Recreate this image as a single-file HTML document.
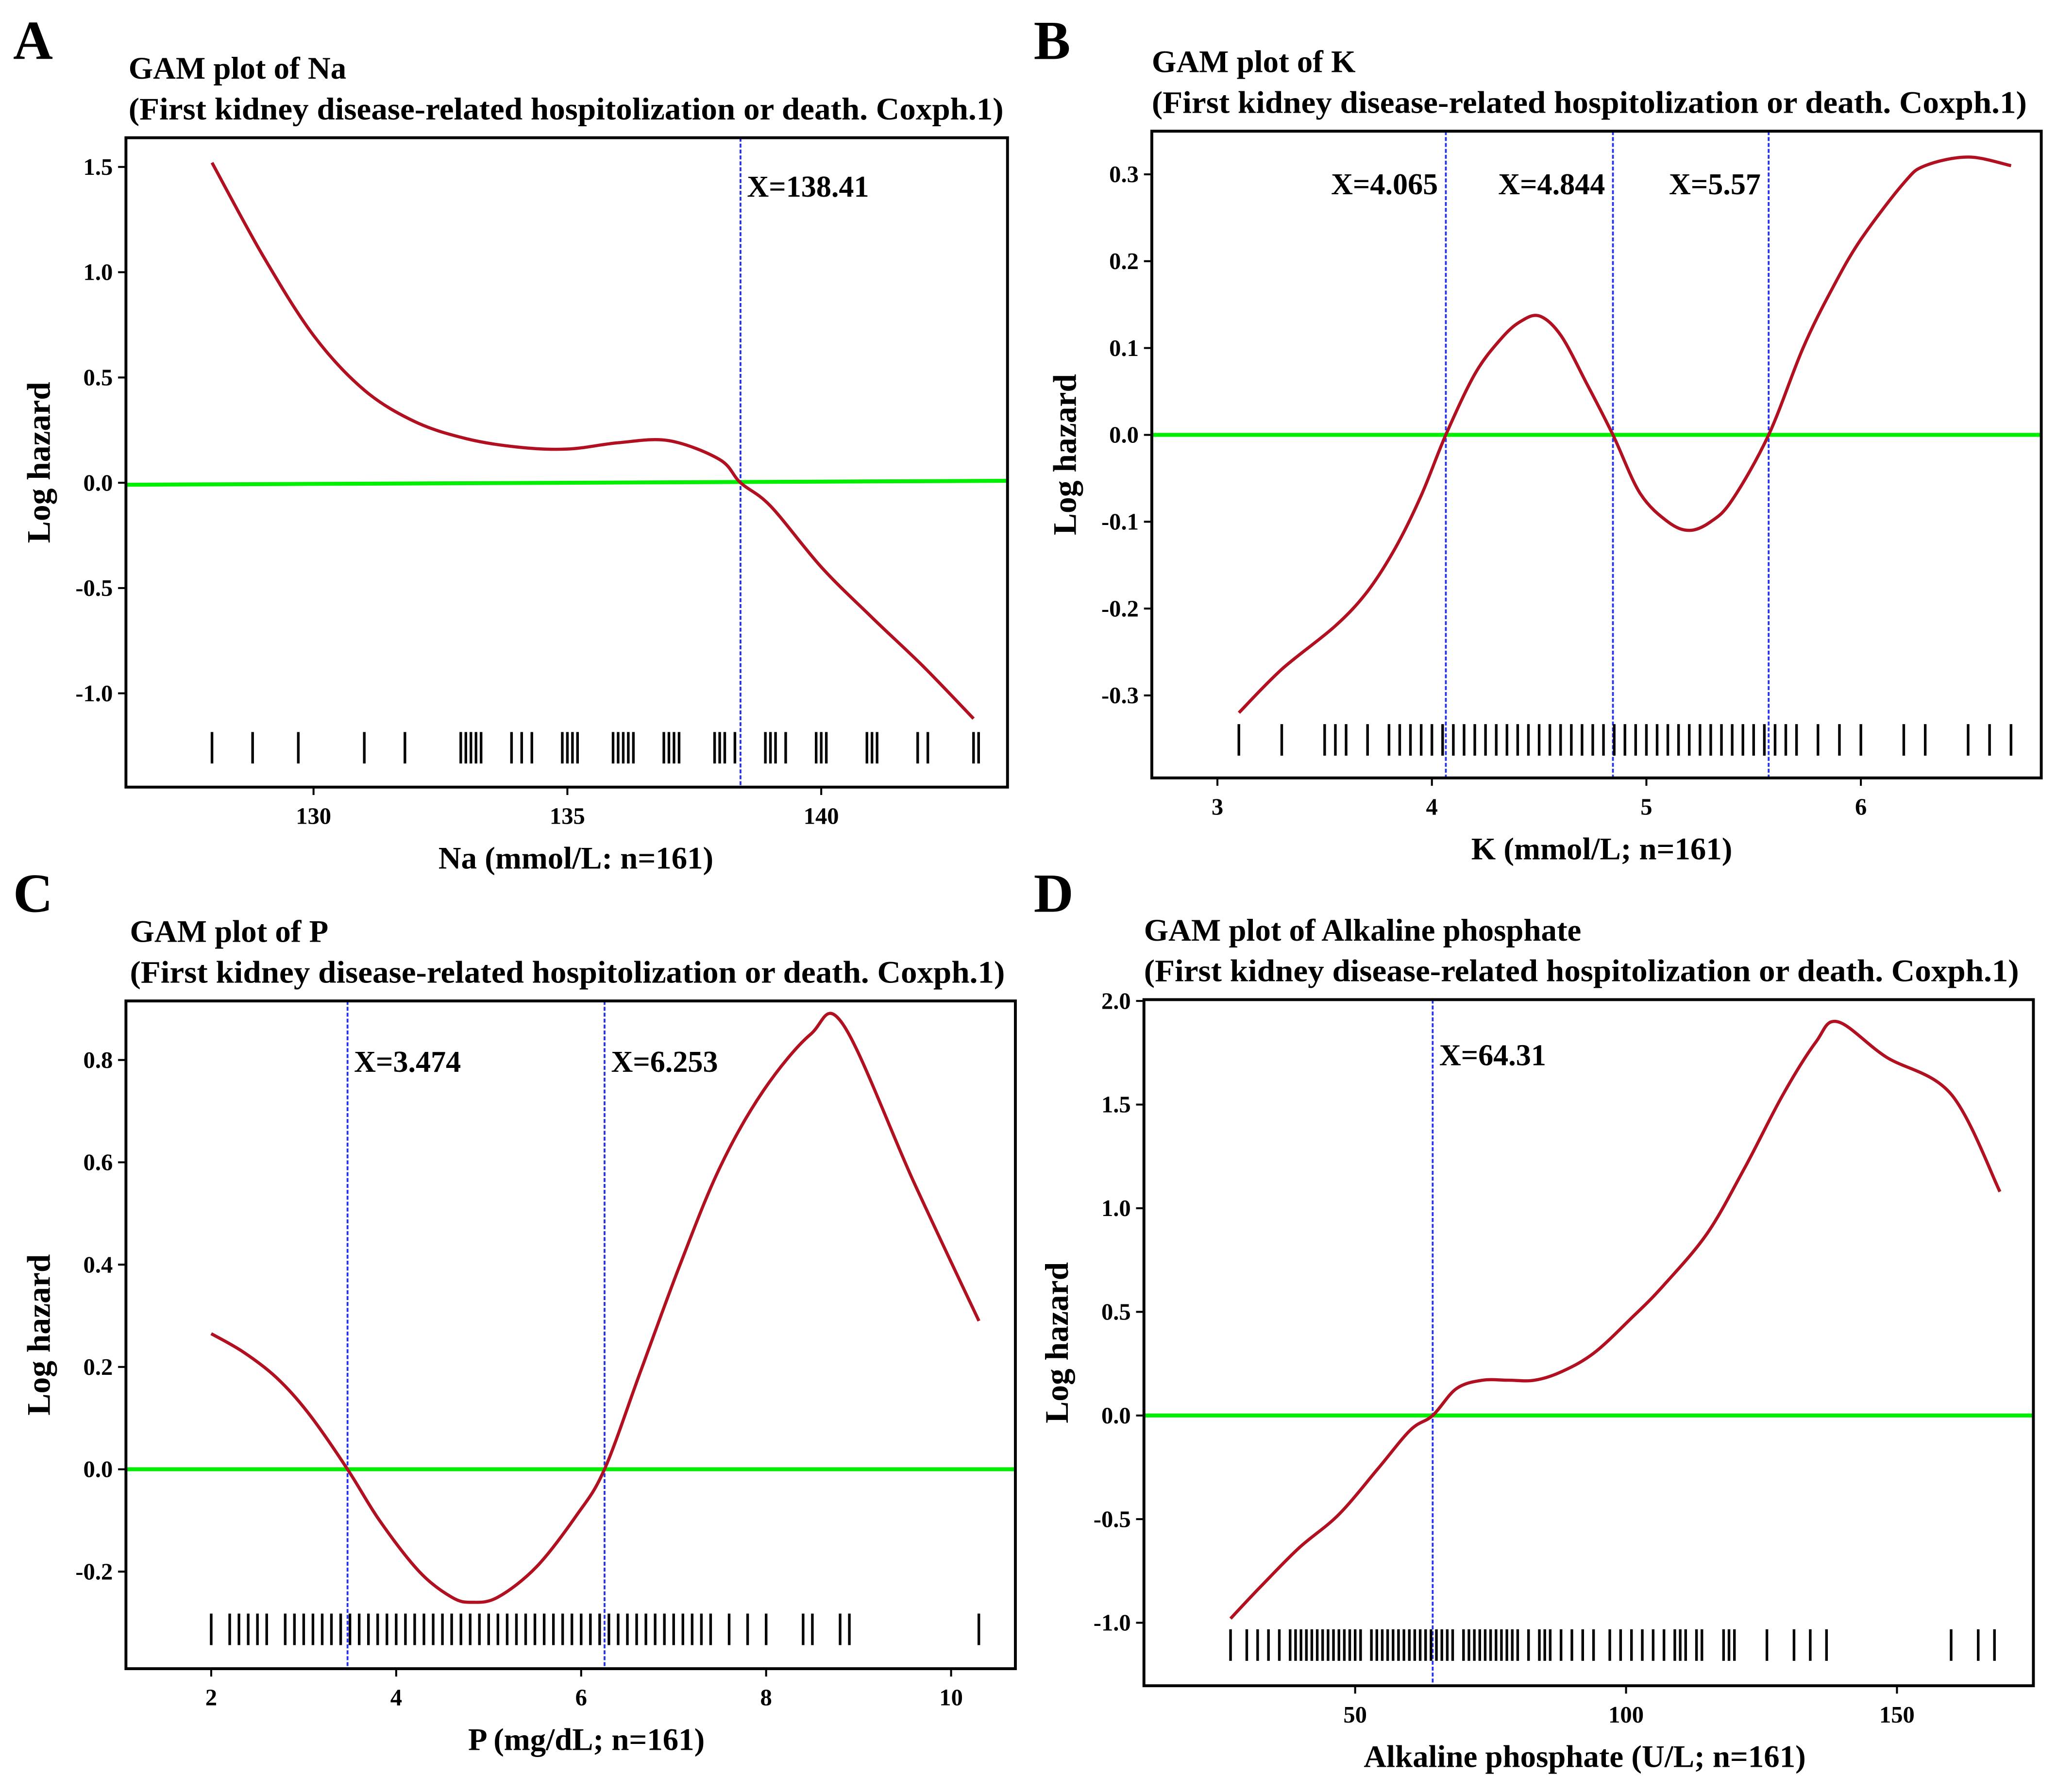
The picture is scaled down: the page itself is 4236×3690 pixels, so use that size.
<!DOCTYPE html>
<html><head><meta charset="utf-8"><style>
html,body{margin:0;padding:0;background:#fff;}
svg{display:block;}
svg text{font-family:"Liberation Serif","DejaVu Serif",serif !important;font-weight:bold;fill:#000;}
</style></head><body>
<svg id="fig" width="4236" height="3690" viewBox="0 0 1568 1366" preserveAspectRatio="none" xmlns="http://www.w3.org/2000/svg" font-family="Liberation Serif, serif"></svg>
<script>
// Panel A: Na
const naX = [128,129,130,131,132,133,134,135,136,137,138,138.41,139,140,141,142,143];
const naY = [1.52,1.08,0.70,0.44,0.29,0.21,0.17,0.16,0.19,0.20,0.11,0,-0.11,-0.40,-0.64,-0.87,-1.12];
const naRug = [128,128.8,129.7,131,131.8,132.9,133,133.1,133.2,133.3,133.9,134.1,134.3,134.9,135,135.1,135.2,135.9,136,136.1,136.2,136.3,136.9,137,137.1,137.2,137.9,138,138.1,138.3,138.9,139,139.1,139.3,139.9,140,140.1,140.9,141,141.1,141.9,142.1,143.0,143.1];
const naYTicks = [1.5,1.0,0.5,0.0,-0.5,-1.0];
const naXTicks = [130,135,140];
const naCuts = [138.41];
// Panel B: K
const kX = [3.1,3.3,3.55,3.7,3.83,3.95,4.065,4.2,4.32,4.41,4.5,4.6,4.72,4.844,4.97,5.1,5.2,5.3,5.4,5.57,5.73,5.87,6.0,6.2,6.3,6.5,6.7];
const kY = [-0.32,-0.27,-0.22,-0.18,-0.13,-0.07,0,0.07,0.11,0.13,0.137,0.115,0.06,0,-0.067,-0.10,-0.11,-0.10,-0.075,0,0.10,0.17,0.225,0.29,0.31,0.32,0.31];
const kRug = [3.1,3.3,3.5,3.55,3.6,3.7,3.8,3.85,3.9,3.95,4.0,4.05,4.1,4.15,4.2,4.25,4.3,4.35,4.4,4.45,4.5,4.55,4.6,4.65,4.7,4.75,4.8,4.85,4.9,4.95,5.0,5.05,5.1,5.15,5.2,5.25,5.3,5.35,5.4,5.45,5.5,5.55,5.6,5.65,5.7,5.8,5.9,6.0,6.2,6.3,6.5,6.6,6.7];
const kYTicks = [0.3,0.2,0.1,0.0,-0.1,-0.2,-0.3];
const kXTicks = [3,4,5,6];
const kCuts = [4.065,4.844,5.57];
// Panel C: P
const pX = [2,2.34,2.7,3.05,3.474,3.82,4.25,4.6,4.82,5.1,5.52,5.95,6.253,6.64,7.07,7.5,7.97,8.48,8.83,9.6,10.3];
const pY = [0.265,0.23,0.18,0.11,0,-0.10,-0.20,-0.25,-0.26,-0.25,-0.19,-0.09,0,0.19,0.40,0.59,0.74,0.85,0.87,0.56,0.29];
const pRug = [2,2.2,2.3,2.4,2.5,2.6,2.8,2.9,3.0,3.1,3.2,3.3,3.4,3.5,3.6,3.7,3.8,3.9,4.0,4.1,4.2,4.3,4.4,4.5,4.6,4.7,4.8,4.9,5.0,5.1,5.2,5.3,5.4,5.5,5.6,5.7,5.8,5.9,6.0,6.1,6.2,6.3,6.4,6.5,6.6,6.7,6.8,6.9,7.0,7.1,7.2,7.3,7.4,7.6,7.8,8.0,8.4,8.5,8.8,8.9,10.3];
const pYTicks = [0.8,0.6,0.4,0.2,0.0,-0.2];
const pXTicks = [2,4,6,8,10];
const pCuts = [3.474,6.253];
// Panel D: Alkaline phosphate
const aX = [27,32.4,39.6,46.9,54.1,60.2,64.31,68.7,73.5,78.3,83.1,88,94,101,107,115,122,129,135,139,148,160,169];
const aY = [-0.98,-0.83,-0.64,-0.48,-0.26,-0.07,0,0.13,0.17,0.17,0.17,0.21,0.30,0.47,0.63,0.88,1.20,1.55,1.80,1.90,1.73,1.55,1.08];
const aRug = [27,30,32,34,36,38,39,40,41,42,43,44,45,46,47,48,49,50,51,53,54,55,56,57,58,59,60,61,62,63,64,65,66,67,68,70,71,72,73,74,75,76,77,78,79,80,82,84,85,86,88,90,92,94,97,99,101,103,105,107,109,110,111,113,114,118,119,120,126,131,134,137,160,165,168];
const aYTicks = [2.0,1.5,1.0,0.5,0.0,-0.5,-1.0];
const aXTicks = [50,100,150];
const aCuts = [64.31];

const NS = "http://www.w3.org/2000/svg";
const svg = document.getElementById('fig');
function mk(tag, attrs, parent, txt){
  const e = document.createElementNS(NS, tag);
  for (const k in attrs) e.setAttribute(k, attrs[k]);
  if (tag === 'text') { e.setAttribute('font-family', 'Liberation Serif, serif'); e.setAttribute('font-weight', 'bold'); }
  if (txt !== undefined) e.textContent = txt;
  (parent || svg).appendChild(e);
  return e;
}
function smoothPath(pts){
  let d = 'M' + pts[0][0].toFixed(1) + ',' + pts[0][1].toFixed(1);
  for (let i = 0; i < pts.length - 1; i++) {
    const p0 = pts[Math.max(0, i - 1)], p1 = pts[i], p2 = pts[i + 1], p3 = pts[Math.min(pts.length - 1, i + 2)];
    const c1x = p1[0] + (p2[0] - p0[0]) / 6, c1y = p1[1] + (p2[1] - p0[1]) / 6;
    const c2x = p2[0] - (p3[0] - p1[0]) / 6, c2y = p2[1] - (p3[1] - p1[1]) / 6;
    d += ' C' + [c1x, c1y, c2x, c2y, p2[0], p2[1]].map(v => v.toFixed(1)).join(',');
  }
  return d;
}
function panel(cfg){
  const g = mk('g', {});
  
  
  const sx = v => cfg.x0 + (v - cfg.xa) * cfg.xs;
  const sy = v => cfg.y0 - v * cfg.ys;
  const lab = mk('text', {x: cfg.lx, y: cfg.ly, 'font-size': 42}, g, cfg.letter);
  
  
  const t1 = mk('text', {x: cfg.tx, y: cfg.ty, 'font-size': 24}, g, cfg.title);
  
  
  const t2 = mk('text', {x: cfg.tx, y: cfg.ty + 31, 'font-size': 24, textLength: cfg.subW, lengthAdjust: 'spacingAndGlyphs'}, g, '(First kidney disease-related hospitolization or death. Coxph.1)');
  
  
  const z = mk('line', {x1: cfg.L, x2: cfg.R, y1: sy(0) + (cfg.tilt||0), y2: sy(0) - (cfg.tilt||0), stroke: '#00ee00', 'stroke-width': 3}, g);
  
  
  cfg.cuts.forEach(c => {
    const l = mk('line', {x1: sx(c), x2: sx(c), y1: cfg.T, y2: cfg.B, stroke: '#2233ee', 'stroke-width': 1.4, 'stroke-dasharray': '3,1.5'}, g);
    
    
    const left = cfg.cutLeft;
    const tt = mk('text', {x: sx(c) + (left ? -6 : 5), y: cfg.cutY, 'font-size': 23, 'text-anchor': left ? 'end' : 'start'}, g, 'X=' + c);
    
    
  });
  cfg.rug.forEach(v => {
    const r = mk('line', {x1: sx(v), x2: sx(v), y1: cfg.rugY, y2: cfg.rugY + 24, stroke: '#000', 'stroke-width': 2}, g);
    
    
  });
  const pts = cfg.xs_.map((v, i) => [sx(v), sy(cfg.ys_[i])]);
  const p = mk('path', {d: smoothPath(pts), fill: 'none', stroke: '#b01020', 'stroke-width': 2.4}, g);
  
  
  const f = mk('rect', {x: cfg.L, y: cfg.T, width: cfg.R - cfg.L, height: cfg.B - cfg.T, fill: 'none', stroke: '#000', 'stroke-width': 2.2}, g);
  
  
  cfg.yt.forEach(v => {
    mk('line', {x1: cfg.L - 6, x2: cfg.L, y1: sy(v), y2: sy(v), stroke: '#000', 'stroke-width': 1.5}, g);
    const tl = mk('text', {x: cfg.L - 10, y: sy(v) + 6, 'font-size': 18, 'text-anchor': 'end'}, g, v.toFixed(1));
    
    
  });
  cfg.xt.forEach(v => {
    mk('line', {x1: sx(v), x2: sx(v), y1: cfg.B, y2: cfg.B + 6, stroke: '#000', 'stroke-width': 1.5}, g);
    const tl = mk('text', {x: sx(v), y: cfg.B + 28, 'font-size': 18, 'text-anchor': 'middle'}, g, String(v));
    
    
  });
  const yl = mk('text', {x: 0, y: 0, 'font-size': 25, 'text-anchor': 'middle', transform: 'translate(' + (cfg.L - 58) + ',' + ((cfg.T + cfg.B) / 2) + ') rotate(-90)'}, g, 'Log hazard');
  
  
  const xl = mk('text', {x: (cfg.L + cfg.R) / 2 + (cfg.xlOff||0), y: cfg.B + 62, 'font-size': 24, 'text-anchor': 'middle'}, g, cfg.xlabel);
  
  
}
panel({name:'panel-a-na', letter:'A', lx:10, ly:45, tx:98, ty:60, title:'GAM plot of Na', subW:667,
  L:96, R:768, T:105, B:600, x0:239, xa:130, xs:38.7, y0:368, ys:160.5, tilt:1.5,
  cuts:naCuts, cutY:150, rug:naRug, rugY:558, xs_:naX, ys_:naY, yt:naYTicks, xt:naXTicks, xlabel:'Na (mmol/L: n=161)', xlOff:7});
panel({name:'panel-b-k', letter:'B', lx:788, ly:45, tx:878, ty:55, title:'GAM plot of K', subW:667, cutLeft:true,
  L:878, R:1556, T:100, B:593, x0:928, xa:3, xs:163.5, y0:331.5, ys:662,
  cuts:kCuts, cutY:148, rug:kRug, rugY:552, xs_:kX, ys_:kY, yt:kYTicks, xt:kXTicks, xlabel:'K (mmol/L; n=161)', xlOff:4});
panel({name:'panel-c-p', letter:'C', lx:10, ly:695, tx:99, ty:718, title:'GAM plot of P', subW:667,
  L:96, R:774, T:763, B:1272, x0:161, xa:2, xs:70.5, y0:1120, ys:390,
  cuts:pCuts, cutY:817, rug:pRug, rugY:1230, xs_:pX, ys_:pY, yt:pYTicks, xt:pXTicks, xlabel:'P (mg/dL; n=161)', xlOff:12});
panel({name:'panel-d-alp', letter:'D', lx:788, ly:695, tx:872, ty:717, title:'GAM plot of Alkaline phosphate', subW:667,
  L:872, R:1550, T:762, B:1285, x0:1033, xa:50, xs:4.13, y0:1079, ys:158,
  cuts:aCuts, cutY:812, rug:aRug, rugY:1242, xs_:aX, ys_:aY, yt:aYTicks, xt:aXTicks, xlabel:'Alkaline phosphate (U/L; n=161)', xlOff:-3});
</script>
</body></html>
